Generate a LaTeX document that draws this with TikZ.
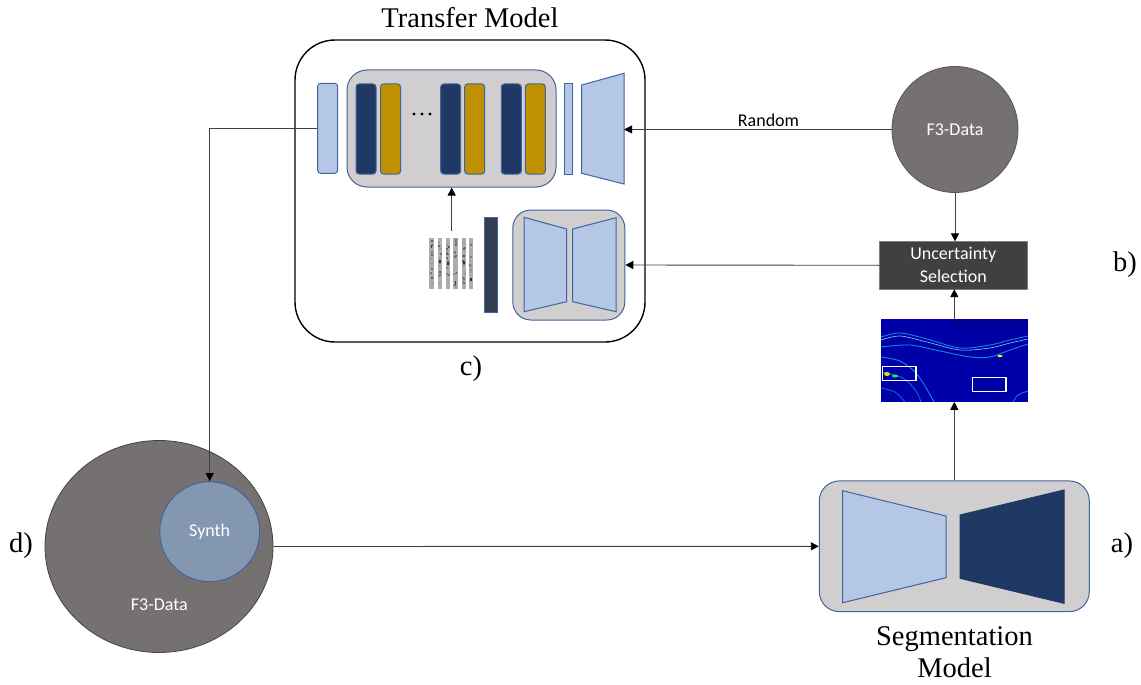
\documentclass[tikz,border=0pt]{standalone}
\usepackage{fontspec}
\setmainfont{Liberation Serif}
\newfontfamily\carl{Carlito}
\usetikzlibrary{arrows.meta,shapes.geometric}
\definecolor{lblue}{HTML}{B4C7E7}
\definecolor{bord}{HTML}{41649E}
\definecolor{navy}{HTML}{203864}
\definecolor{gold}{HTML}{BF9000}
\definecolor{boxgray}{HTML}{D0CECE}
\definecolor{cgray}{HTML}{767171}
\definecolor{synthc}{HTML}{8497B0}
\definecolor{ubox}{HTML}{404040}
\definecolor{slate}{HTML}{333F50}
\definecolor{jetblue}{HTML}{0000A8}
\definecolor{jetdark}{HTML}{000096}
\tikzset{
  serif/.style={font=\fontsize{28.5}{33}\selectfont},
  sans/.style={font=\carl\fontsize{18}{23}\selectfont},
  bar/.style={draw=bord, line width=1pt, rounded corners=3pt, minimum width=20pt, minimum height=90pt, inner sep=0pt},
  graybox/.style={draw=bord, fill=boxgray, line width=1pt, inner sep=0pt},
  trap/.style={draw=bord, line width=1pt, line join=miter},
  conn/.style={draw=black!75, line width=0.9pt, -{Triangle[length=8pt,width=8pt,color=black]}},
}
\begin{document}
\begin{tikzpicture}[x=1pt,y=-1pt]
\useasboundingbox (0,0) rectangle (1141,685);

% ---------- Transfer model ----------
\node[draw=black, line width=1.4pt, rounded corners=40pt, minimum width=350pt, minimum height=302pt, inner sep=0pt] (tm) at (470,191) {};
\node[serif] (tmt) at (470,18) {Transfer Model};
\node[serif] (lc) at (471,369) {c)};

\node[graybox, rounded corners=20pt, minimum width=209pt, minimum height=117pt] (enc) at (451.5,128.5) {};
\node[bar, fill=lblue] (lb) at (327.7,128.3) {};
\node[bar, fill=navy] (b1) at (366,129) {};
\node[bar, fill=gold] (g1) at (390.5,129) {};
\node[bar, fill=navy] (b2) at (450.7,129) {};
\node[bar, fill=gold] (g2) at (474.7,129) {};
\node[bar, fill=navy] (b3) at (511.3,129) {};
\node[bar, fill=gold] (g3) at (535.3,129) {};
\foreach \dx in {414,422,430} \fill (\dx,114) circle (1.6);
\node[draw=bord, fill=lblue, line width=1pt, minimum width=8pt, minimum height=90pt, inner sep=0pt] (tb) at (568.3,129) {};
\draw[trap, fill=lblue] (581.7,85) -- (624,73.3) -- (624,184) -- (581.7,173.3) -- cycle;
\coordinate (dec) at (624,129.5);

\node[graybox, rounded corners=18pt, minimum width=112pt, minimum height=110pt] (ae) at (568.8,265) {};
\draw[trap, fill=lblue] (524,217.3) -- (566.7,229) -- (566.7,301.7) -- (524,311.7) -- cycle;
\draw[trap, fill=lblue] (572.7,229) -- (616,217.7) -- (616,311.7) -- (572.7,301.7) -- cycle;
\node[draw=bord, fill=slate, line width=1pt, minimum width=13pt, minimum height=95pt, inner sep=0pt] (db) at (490.8,264.8) {};

% seismic stripes
\pgfmathsetseed{7}
\foreach \sx in {429.3,437.7,445.7,453.3,461.7,469} {
  \fill[gray!65] (\sx,238.3) rectangle ++(4.2,51);
  \foreach \k in {1,...,18} {
    \pgfmathsetmacro\yy{238.3+rnd*49}
    \pgfmathtruncatemacro\gg{25+rnd*40}
    \fill[black!\gg] (\sx+rnd*2.2,\yy) rectangle ++(2,2);
  }
  \pgfmathsetmacro\yd{245+rnd*38}
  \fill[black!80] (\sx+1.2,\yd) rectangle ++(1.8,3);
}
\node[minimum width=45pt, minimum height=51pt, inner sep=0pt] (stripes) at (451.5,263.8) {};
\coordinate (st) at (451.7,231);
\draw[conn] (st) -- (st |- enc.south);

% ---------- right column ----------
\node[circle, fill=cgray, draw=cgray!75!black, line width=0.8pt, minimum size=126pt, inner sep=0pt, sans, text=white] (f3) at (955,129.5) {F3-Data};
\draw[conn] (f3.west) -- node[above, sans, text=black, pos=0.46, yshift=-1pt] {Random} (dec);

\node[fill=ubox, draw=gray, line width=0.5pt, minimum width=148pt, minimum height=47.3pt, inner sep=0pt, sans, text=white, align=center] (unc) at (953.3,265.3) {Uncertainty\\Selection};
\draw[conn] (f3.south) -- (f3.south |- unc.north);
\draw[conn] (unc.west) -- (ae.east);
\node[serif] (lb2) at (1125,265) {b)};

% heatmap
\node[fill=jetblue, minimum width=146.7pt, minimum height=82.4pt, inner sep=0pt] (hm) at (954.3,360.5) {};
\begin{scope}
\clip (881,319.3) rectangle (1027.7,401.7);
\fill[jetdark] (952,319.3) rectangle (1027.7,330);
\draw[cyan!70!blue, line width=0.9pt] plot[smooth] coordinates {(881,337) (900,333) (927,339) (960,348) (990,345) (1010,340) (1028,336)};
\draw[cyan!50!white, line width=0.6pt] plot[smooth] coordinates {(881,340) (900,336) (927,342) (960,350) (990,348) (1010,343) (1028,339)};
\draw[cyan!70!blue, line width=0.9pt] plot[smooth] coordinates {(881,347) (910,345) (940,351) (970,357) (990,357) (1010,350) (1028,344)};
\draw[cyan!70!blue, line width=0.9pt] plot[smooth] coordinates {(881,357) (900,361) (915,372) (925,386) (934,402)};
\draw[cyan!60!blue, line width=0.7pt] plot[smooth] coordinates {(881,372) (903,378) (916,391) (921,402)};
\draw[cyan!60!blue, line width=0.7pt] plot[smooth] coordinates {(881,388) (895,392) (905,402)};
\draw[cyan!70!blue, line width=0.8pt] plot[smooth] coordinates {(1013,402) (1018,395) (1028,391)};
\fill[yellow!80!green] (887,374) ellipse (3 and 2);
\fill[green!70!cyan] (895,376) ellipse (3 and 1.5);
\fill[yellow!90!orange] (1000,356) ellipse (2.5 and 1.2);
\end{scope}
\draw[white, line width=1.2pt] (882.7,366.7) rectangle (916,380.7);
\draw[white, line width=1.2pt] (972.7,377.7) rectangle (1006,391.7);
\draw[conn] (hm.north) -- (hm.north |- unc.south);

% segmentation model
\node[graybox, rounded corners=20pt, minimum width=270pt, minimum height=130.7pt] (seg) at (954.3,546.3) {};
\draw[trap, fill=lblue] (842.7,490.7) -- (946,516) -- (946,577.7) -- (842.7,602.7) -- cycle;
\draw[trap, draw=navy, fill=navy] (960,515) -- (1064,490) -- (1064,603.3) -- (960,578.3) -- cycle;
\draw[conn] (seg.north) -- (hm.south);
\node[serif, anchor=base] (segt1) at (954.5,645.5) {Segmentation};
\node[serif, anchor=base] (segt2) at (954.5,677.5) {Model};
\node[serif] (la) at (1122,546) {a)};

% ---------- data set ----------
\node[ellipse, fill=cgray, draw=cgray!60!black, line width=0.8pt, minimum width=228pt, minimum height=212pt, inner sep=0pt] (bigc) at (159,546.5) {};
\node[circle, fill=synthc, draw=bord, line width=1pt, minimum size=100pt, inner sep=0pt, sans, text=white] (syn) at (209.7,531.7) {Synth};
\node[sans, text=white] (f3b) at (159.3,605) {F3-Data};
\node[serif] (ld) at (21,546) {d)};
\draw[conn] (bigc.east) -- (seg.west);
\draw[conn] (lb.west) -| (syn.north);
\end{tikzpicture}
\end{document}
